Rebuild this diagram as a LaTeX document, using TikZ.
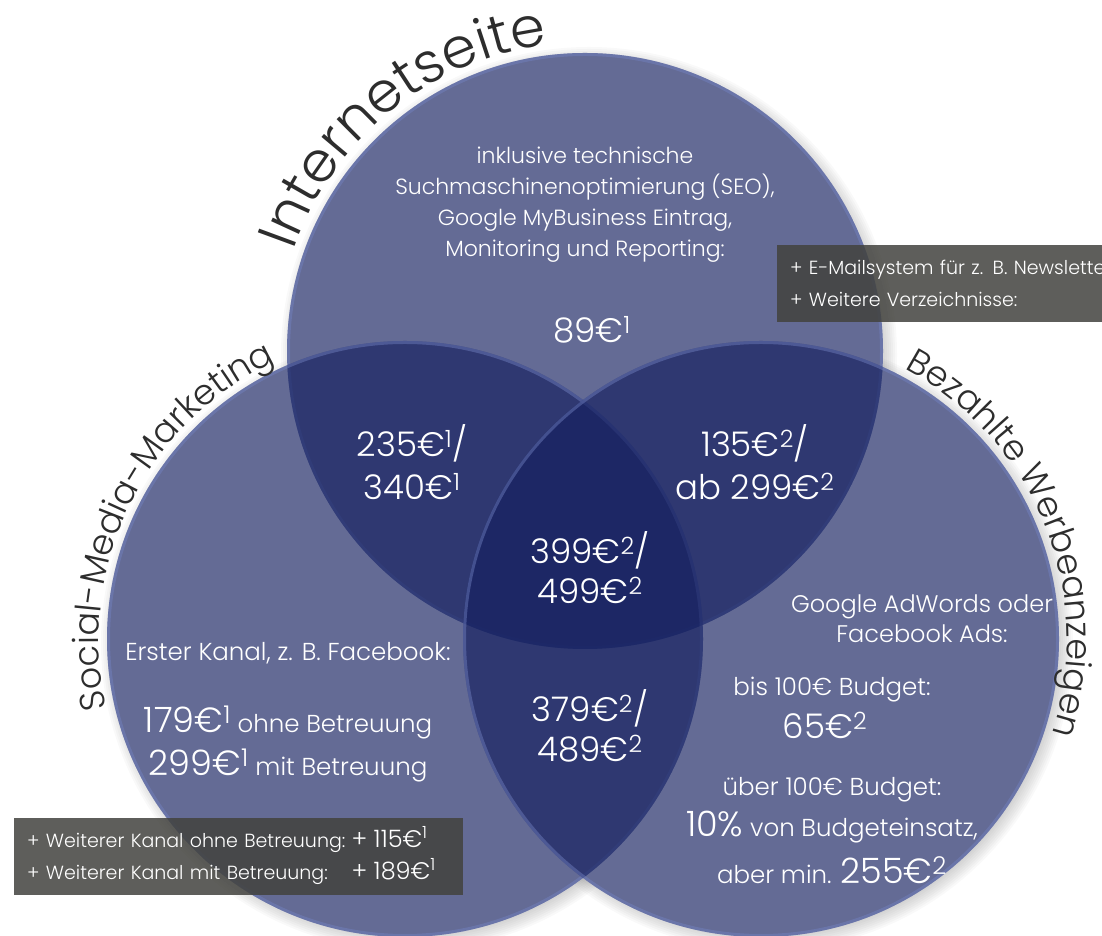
\documentclass[tikz,border=0pt]{standalone}
\usepackage{fontspec}
\setmainfont{Poppins Light}
\usetikzlibrary{decorations.text}

\definecolor{vennblue}{RGB}{20,31,95}
\definecolor{vennrim}{RGB}{115,130,195}
\definecolor{boxgray}{RGB}{66,66,62}
\definecolor{arcgray}{RGB}{45,45,45}

\newcommand\arcfont{\fontsize{56}{56}\selectfont\color{arcgray}}
\newcommand\sidefont{\fontsize{35}{35}\selectfont\color{arcgray}}
\newcommand\price[2]{{\fontsize{35}{35}\selectfont #1\textsuperscript{#2}}}

\tikzset{
  venn/.style={fill=vennblue,fill opacity=.66},
  rim/.style={draw=vennrim,line width=3,draw opacity=.45},
  txt/.style={text=white,align=center,inner sep=0,font=\fontsize{22}{31}\selectfont},
  txtb/.style={txt,font=\fontsize{24.5}{31}\selectfont},
  num/.style={text=white,align=center,inner sep=0,font=\fontsize{34}{43}\selectfont},
  infobox/.style={fill=boxgray,fill opacity=.85,text opacity=1,text=white,align=left,
    anchor=north west,inner xsep=13,inner ysep=0,minimum height=77,font=\fontsize{19}{32}\selectfont},
  arcname/.style={decorate,decoration={text along path,text align=center,text={#1}}}
}

\begin{document}
\begin{tikzpicture}[x=1pt,y=1pt]
\useasboundingbox (0,0) rectangle (1102,936);
\clip (0,0) rectangle (1102,936);

%centres
\coordinate (web) at (585,585);
\coordinate (social) at (405,297);
\coordinate (ads) at (761,297);

%shadows
\foreach \c in {web,social,ads}{
\foreach \i in {1,...,8}{
\fill[black,opacity=.025]([shift={(4,-4)}]\c) circle[radius=292+2*\i];
}}
\fill[white](web) circle[radius=298] (social) circle[radius=298] (ads) circle[radius=298];

%circles
\foreach \c in {web,social,ads}{
\fill[venn](\c) circle[radius=298];
\draw[rim](\c) circle[radius=296.5];
}

%circle names
\path[arcname={|\arcfont|Internetseite}]([shift={(189:308)}]web) arc[start angle=189,end angle=69,radius=308];
\path[arcname={|\sidefont|Social-Media-Marketing}]([shift={(214:306)}]social) arc[start angle=214,end angle=94,radius=306];
\path[arcname={|\sidefont|Bezahlte Werbeanzeigen}]([shift={(82:306)}]ads) arc[start angle=82,end angle=-38,radius=306];

%Internetseite
\node[txt] (incl) at (585,731) {inklusive technische\\Suchmaschinenoptimierung (SEO),\\Google MyBusiness Eintrag,\\Monitoring und Reporting:};
\node[num] (p89) at (592,606) {89€\textsuperscript{1}};

%overlaps
\node[num] (p235) at (412,474) {235€\textsuperscript{1}/\\340€\textsuperscript{1}};
\node[num] (p135) at (755,474) {135€\textsuperscript{2}/\\ab 299€\textsuperscript{2}};
\node[num,font=\fontsize{34}{40}\selectfont] (p399) at (590,368) {399€\textsuperscript{2}/\\499€\textsuperscript{2}};
\node[num,font=\fontsize{34}{40}\selectfont] (p379) at (590,210) {379€\textsuperscript{2}/\\489€\textsuperscript{2}};

%Social-Media-Marketing
\node[txtb] (erster) at (288,283) {Erster Kanal, z. B. Facebook:};
\node[txtb,font=\fontsize{24.5}{43}\selectfont] (betr) at (288,192) {\price{179€}{1} ohne Betreuung\\\price{299€}{1} mit Betreuung};

%Bezahlte Werbeanzeigen
\node[txtb,font=\fontsize{24}{30}\selectfont] (gads) at (922,317) {Google AdWords oder\\Facebook Ads:};
\node[txtb] (bis) at (832,246) {bis 100€ Budget:};
\node[num] (p65) at (825,211) {65€\textsuperscript{2}};
\node[txtb] (ueber) at (832,146) {über 100€ Budget:};
\node[txtb] (zehn) at (832,109) {{\fontsize{35}{35}\selectfont 10\%} von Budgeteinsatz,};
\node[txtb] (mind) at (832,66) {aber min. \price{255€}{2}};

%extras
\node[infobox,text width=374] (extras) at (777,691) {+ E-Mailsystem für z. B. Newsletter\\+ Weitere Verzeichnisse:};
\node[infobox,text width=423] (kanal) at (14,118) {\begin{tabular}{@{}l@{\ }l@{}}
+ Weiterer Kanal ohne Betreuung: & {\fontsize{24}{24}\selectfont + 115€\textsuperscript{1}}\\
+ Weiterer Kanal mit Betreuung: & {\fontsize{24}{24}\selectfont + 189€\textsuperscript{1}}
\end{tabular}};

\end{tikzpicture}
\end{document}
